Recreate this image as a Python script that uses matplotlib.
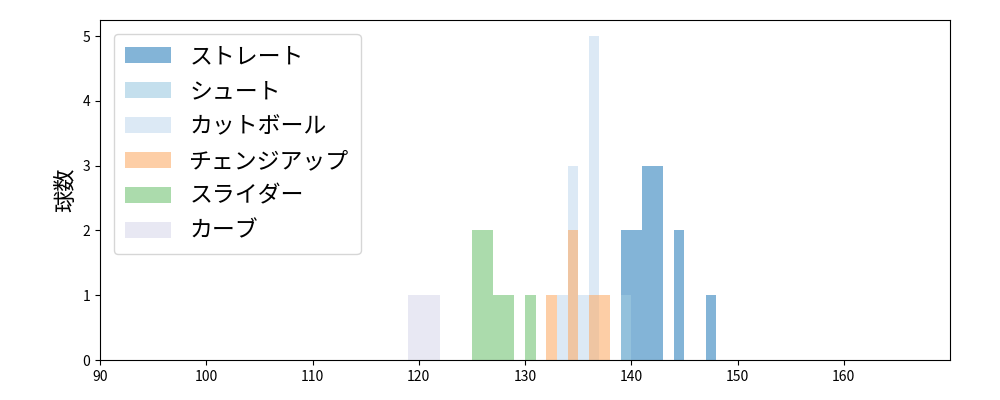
import numpy as np
import matplotlib
matplotlib.use('Agg')
import matplotlib.pyplot as plt

plt.rcParams['font.family'] = ['Noto Sans CJK JP', 'DejaVu Sans']

# 球種ごとのヒストグラム（ビンの左端と件数）
pitch_names = ['ストレート', 'シュート', 'カットボール', 'チェンジアップ', 'スライダー', 'カーブ']
pitch_colors = ['#3182bd', '#9ecae1', '#c6dbef', '#fdae6b', '#74c476', '#dadaeb']

straight_edges = [139, 140, 141, 142, 143, 144, 145, 146, 147, 148]
straight_counts = [2, 2, 3, 3, 0, 2, 0, 0, 1]

shoot_edges = [139, 140]
shoot_counts = [1]

cutball_edges = [133, 134, 135, 136, 137]
cutball_counts = [1, 3, 1, 5]

changeup_edges = [132, 133, 134, 135, 136, 137, 138]
changeup_counts = [1, 0, 2, 0, 1, 1]

slider_edges = [125, 126, 127, 128, 129, 130, 131]
slider_counts = [2, 2, 1, 1, 0, 1]

curve_edges = [119, 122]
curve_counts = [1]

all_edges = [straight_edges, shoot_edges, cutball_edges, changeup_edges, slider_edges, curve_edges]
all_counts = [straight_counts, shoot_counts, cutball_counts, changeup_counts, slider_counts, curve_counts]

fig = plt.figure(figsize=(10, 4), dpi=100)
ax = fig.add_axes([0.1, 0.1, 0.85, 0.85])

for name, color, edges, counts in zip(pitch_names, pitch_colors, all_edges, all_counts):
    edges = np.array(edges, dtype=float)
    ax.bar(edges[:-1], counts, width=np.diff(edges), align='edge',
           color=color, alpha=0.6, label=name, linewidth=0)

ax.set_xlim(90, 170)
ax.set_ylim(0, 5.25)
ax.set_xticks(range(90, 170, 10))
ax.set_yticks(range(0, 6))
ax.tick_params(labelsize=10)
ax.set_ylabel('球数', fontsize=16)
ax.legend(loc='upper left', fontsize=16.5, handlelength=2.0, handletextpad=0.8,
          borderpad=0.5, labelspacing=0.52, borderaxespad=0.6)

plt.savefig('out.png')
